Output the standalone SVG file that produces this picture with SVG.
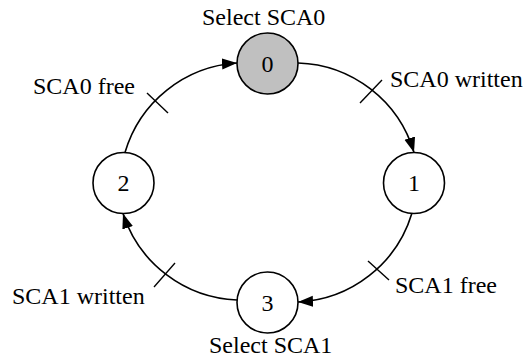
<svg xmlns="http://www.w3.org/2000/svg" width="529" height="358" viewBox="0 0 529 358">
<style>
.node{fill:#ffffff;stroke:#000000;stroke-width:1.6}
.start{fill:#c0c0c0}
.edge{fill:none;stroke:#000000;stroke-width:1.6}
.tick{stroke:#000000;stroke-width:1.4}
text{font-family:"Liberation Serif","Times New Roman",serif;font-size:24px;fill:#000000}
.c{text-anchor:middle}
</style>
<defs>
<marker id="arrow" markerUnits="userSpaceOnUse" markerWidth="16" markerHeight="12" refX="15" refY="5.5" orient="auto">
<path d="M0,0 L15,5.5 L0,11 z" fill="#000000"/>
</marker>
</defs>
<g id="connectors">
<path class="edge" d="M298,63 A125,125 0 0,1 414,152.5" marker-end="url(#arrow)"/>
<path class="edge" d="M412,213 A125,125 0 0,1 298,302" marker-end="url(#arrow)"/>
<path class="edge" d="M237,300 A125,125 0 0,1 123,213.5" marker-end="url(#arrow)"/>
<path class="edge" d="M125,152.5 A125,125 0 0,1 237,63" marker-end="url(#arrow)"/>
<line class="tick" x1="360" y1="103" x2="382" y2="80"/>
<line class="tick" x1="368" y1="261" x2="389" y2="280"/>
<line class="tick" x1="154" y1="287" x2="175" y2="263"/>
<line class="tick" x1="147" y1="93" x2="168" y2="113"/>
<text x="390" y="87">SCA0 written</text>
<text x="395" y="293">SCA1 free</text>
<text x="12" y="304">SCA1 written</text>
<text x="33" y="94">SCA0 free</text>
</g>
<g id="node0">
<circle class="node start" cx="267.5" cy="63.5" r="30.5"/>
<text class="c" x="267.5" y="71.5">0</text>
<text x="202" y="25">Select SCA0</text>
</g>
<g id="node1">
<circle class="node" cx="414" cy="183" r="30.5"/>
<text class="c" x="414" y="191">1</text>
</g>
<g id="node2">
<circle class="node" cx="123.5" cy="183" r="30.5"/>
<text class="c" x="123.5" y="191">2</text>
</g>
<g id="node3">
<circle class="node" cx="267.5" cy="302.5" r="30.5"/>
<text class="c" x="267.5" y="310.5">3</text>
<text x="209" y="353">Select SCA1</text>
</g>
</svg>
